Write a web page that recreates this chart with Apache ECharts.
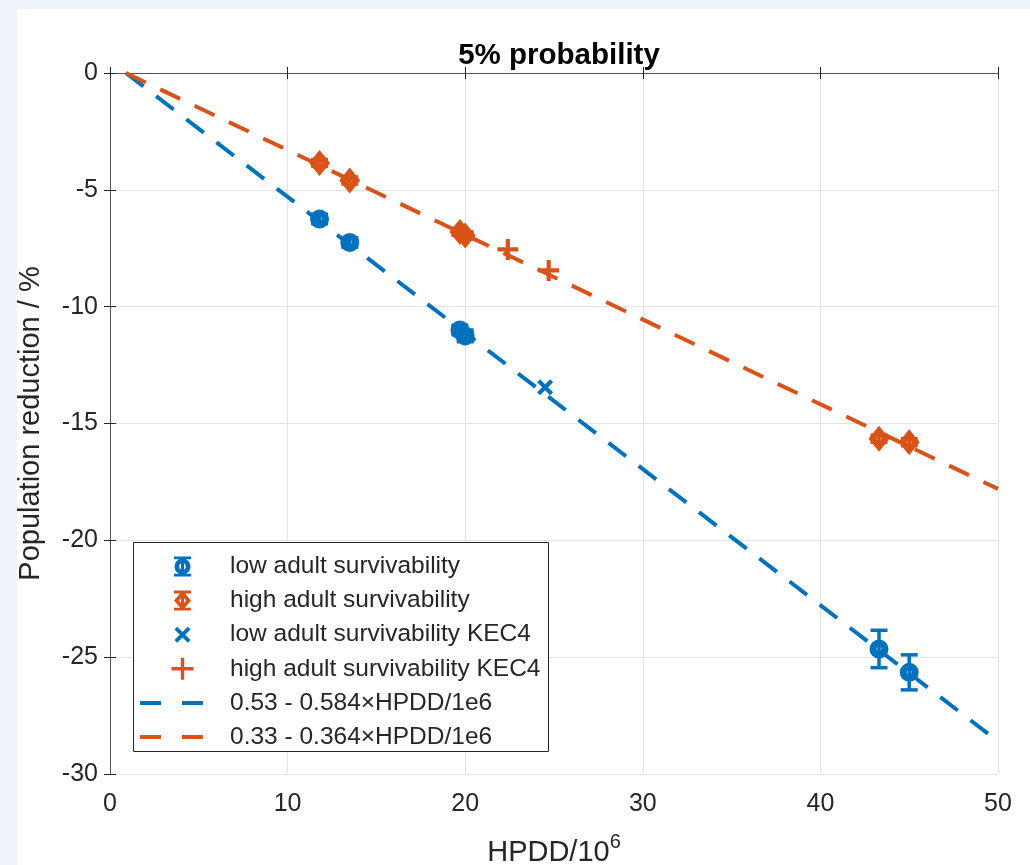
<!DOCTYPE html>
<html>
<head>
<meta charset="utf-8">
<script src="https://cdn.jsdelivr.net/npm/echarts@6/dist/echarts.min.js"></script>
<style>
  html, body { margin: 0; padding: 0; background: #eef2fa; }
  #chart { width: 1030px; height: 865px; }
</style>
</head>
<body>
<div id="chart"></div>
<script>
// values
const lowX = [11.8, 13.5, 19.7, 20.0, 43.3, 45.0];
const lowY = [-6.25, -7.25, -11.0, -11.25, -24.65, -25.65];
const lowErr = [0.2, 0.2, 0.2, 0.25, 0.8, 0.75];

const highX = [11.8, 13.5, 19.7, 20.0, 43.3, 45.0];
const highY = [-3.85, -4.6, -6.8, -6.95, -15.65, -15.8];
const highErr = [0.15, 0.15, 0.15, 0.15, 0.15, 0.15];

const lowKecX = [24.5];
const lowKecY = [-13.45];
const highKecX = [22.4, 24.7];
const highKecY = [-7.55, -8.45];

const fitLowX = [0.9, 50];
const fitLowY = [0, -28.6];
const fitHighX = [0.9, 50];
const fitHighY = [0, -17.8];

const names = [
  'low adult survivability',
  'high adult survivability',
  'low adult survivability KEC4',
  'high adult survivability KEC4',
  '0.53 - 0.584\u00d7HPDD/1e6',
  '0.33 - 0.364\u00d7HPDD/1e6',
];

const BLUE = '#0072BD';
const ORANGE = '#D95319';
const FONT = '"Liberation Sans", Arial, Helvetica, sans-serif';
const INK = '#262626';

// legend icons, each in a 85x22 frame (the two leading moves pin the frame)
const FRAME = 'path://M0,0 M85,22 ';
const ICON_CIRCLE_BAR = FRAME + 'M34,1 H51 V3.8 H34 Z M34,18.2 H51 V21 H34 Z M41,3 H44 V19 H41 Z'
  + ' M34.5,11 A8,8 0 1,1 50.5,11 A8,8 0 1,1 34.5,11 Z M39.3,11 A3.2,3.2 0 1,0 45.7,11 A3.2,3.2 0 1,0 39.3,11 Z';
const ICON_DIAMOND_BAR = FRAME + 'M34,1 H51 V3.8 H34 Z M34,18.2 H51 V21 H34 Z M41,3 H44 V19 H41 Z'
  + ' M42.5,1 L51,11 L42.5,21 L34,11 Z M42.5,6.8 L38.9,11 L42.5,15.2 L46.1,11 Z';
const ICON_X = FRAME + 'M34.5,5.7 L37.2,3 L42.5,8.3 L47.8,3 L50.5,5.7 L45.2,11 L50.5,16.3 L47.8,19 L42.5,13.7 L37.2,19 L34.5,16.3 L39.8,11 Z';
const ICON_PLUS = FRAME + 'M40.8,0 H44.2 V9.3 H53.5 V12.7 H44.2 V22 H40.8 V12.7 H31.5 V9.3 H40.8 Z';
const ICON_DASH = FRAME + 'M0,9 H21 V13 H0 Z M42,9 H63 V13 H42 Z';

// plot markers: thick rings drawn as filled paths with a small hole
const SYM_RING = 'path://M0,10 A10,10 0 1,1 20,10 A10,10 0 1,1 0,10 Z M7.4,10 A2.6,2.6 0 1,0 12.6,10 A2.6,2.6 0 1,0 7.4,10 Z';
const SYM_DIAMOND = 'path://M10,0 L20,12 L10,24 L0,12 Z M10,9 L7.6,12 L10,15 L12.4,12 Z';
const SYM_X = 'path://M0,3 L3,0 L8,5 L13,0 L16,3 L11,8 L16,13 L13,16 L8,11 L3,16 L0,13 L5,8 Z';
const SYM_PLUS = 'path://M6.4,0 H9.6 V6.4 H16 V9.6 H9.6 V16 H6.4 V9.6 H0 V6.4 H6.4 Z';

function zip(xs, ys) {
  return xs.map((x, i) => [x, ys[i]]);
}

function errorBars(name, color, xs, ys, errs) {
  return {
    name: name,
    type: 'custom',
    z: 3,
    data: xs.map((x, i) => [x, ys[i], errs[i]]),
    encode: { x: 0, y: 1 },
    renderItem: (params, api) => {
      const x = api.value(0);
      const y = api.value(1);
      const e = api.value(2);
      const top = api.coord([x, y + e]);
      const bot = api.coord([x, y - e]);
      const w = 8.5;
      const st = { stroke: color, lineWidth: 3.5 };
      return {
        type: 'group',
        children: [
          { type: 'line', shape: { x1: top[0], y1: top[1], x2: bot[0], y2: bot[1] }, style: st },
          { type: 'line', shape: { x1: top[0] - w, y1: top[1], x2: top[0] + w, y2: top[1] }, style: st },
          { type: 'line', shape: { x1: bot[0] - w, y1: bot[1], x2: bot[0] + w, y2: bot[1] }, style: st },
        ],
      };
    },
  };
}

const axisCommon = {
  axisLine: { lineStyle: { color: '#555', width: 1 } },
  axisTick: { inside: true, length: 6, lineStyle: { color: INK, width: 1 } },
  splitLine: { show: false },
  axisLabel: { show: false },
};

const chart = echarts.init(document.getElementById('chart'));

chart.setOption({
  animation: false,
  backgroundColor: 'transparent',
  textStyle: { fontFamily: FONT },
  graphic: [
    {
      type: 'rect',
      z: -10,
      silent: true,
      shape: { x: 17, y: 9, width: 1013, height: 856 },
      style: { fill: '#ffffff' },
    },
    {
      type: 'rect',
      z: 3,
      silent: true,
      shape: { x: 133.5, y: 542.5, width: 415, height: 209 },
      style: { fill: '#ffffff', stroke: INK, lineWidth: 1 },
    },
  ],
  title: {
    text: '5% probability',
    left: 554,
    top: 36,
    textAlign: 'center',
    textStyle: { fontFamily: FONT, fontSize: 29.5, fontWeight: 'bold', color: '#000' },
  },
  grid: { left: 110, right: 32, top: 73, bottom: 91, containLabel: false, outerBoundsMode: 'none' },
  legend: {
    orient: 'vertical',
    left: 140,
    top: 554,
    padding: 0,
    itemWidth: 85,
    itemHeight: 22,
    itemGap: 9.1,
    z: 5,
    selectedMode: false,
    textStyle: { fontFamily: FONT, fontSize: 24.5, color: INK, lineHeight: 22 },
    data: [
      { name: names[0], icon: ICON_CIRCLE_BAR, itemStyle: { borderWidth: 0, color: BLUE, opacity: 1 } },
      { name: names[1], icon: ICON_DIAMOND_BAR, itemStyle: { borderWidth: 0, color: ORANGE, opacity: 1 } },
      { name: names[2], icon: ICON_X, itemStyle: { borderWidth: 0, color: BLUE, opacity: 1 } },
      { name: names[3], icon: ICON_PLUS, itemStyle: { borderWidth: 0, color: ORANGE, opacity: 1 } },
      { name: names[4], icon: ICON_DASH, itemStyle: { borderWidth: 0, color: BLUE, opacity: 1 } },
      { name: names[5], icon: ICON_DASH, itemStyle: { borderWidth: 0, color: ORANGE, opacity: 1 } },
    ],
  },
  xAxis: [
    {
      type: 'value',
      position: 'bottom',
      min: 0,
      max: 50,
      interval: 10,
      name: '{a|HPDD/10}{s|6}',
      nameLocation: 'middle',
      nameGap: 63,
      nameTextStyle: {
        rich: {
          a: { fontFamily: FONT, fontSize: 29, color: INK, verticalAlign: 'bottom', lineHeight: 30 },
          s: { fontFamily: FONT, fontSize: 20, color: INK, verticalAlign: 'bottom', lineHeight: 30, padding: [0, 0, 15, 0] },
        },
      },
      axisLine: { lineStyle: { color: '#555', width: 1 } },
      axisTick: { inside: true, length: 6, lineStyle: { color: INK, width: 1 } },
      axisLabel: { fontFamily: FONT, fontSize: 25, color: INK, margin: 18 },
      splitLine: { show: true, lineStyle: { color: '#e2e2e2', width: 1 } },
    },
    Object.assign({}, axisCommon, { type: 'value', position: 'top', min: 0, max: 50, interval: 10 }),
  ],
  yAxis: [
    {
      type: 'value',
      position: 'left',
      min: -30,
      max: 0,
      interval: 5,
      name: 'Population reduction / %',
      nameLocation: 'middle',
      nameGap: 65,
      nameTextStyle: { fontFamily: FONT, fontSize: 29, color: INK },
      axisLine: { lineStyle: { color: '#555', width: 1 } },
      axisTick: { inside: true, length: 6, lineStyle: { color: INK, width: 1 } },
      axisLabel: { fontFamily: FONT, fontSize: 25, color: INK, margin: 12 },
      splitLine: { show: true, lineStyle: { color: '#e2e2e2', width: 1 } },
    },
    Object.assign({}, axisCommon, { type: 'value', position: 'right', min: -30, max: 0, interval: 5 }),
  ],
  series: [
    errorBars('low err', BLUE, lowX, lowY, lowErr),
    {
      name: names[0],
      type: 'scatter',
      z: 4,
      data: zip(lowX, lowY),
      symbol: SYM_RING,
      symbolSize: 19,
      itemStyle: { color: BLUE, opacity: 1 },
    },
    errorBars('high err', ORANGE, highX, highY, highErr),
    {
      name: names[1],
      type: 'scatter',
      z: 4,
      data: zip(highX, highY),
      symbol: SYM_DIAMOND,
      symbolSize: [21, 26],
      itemStyle: { color: ORANGE, opacity: 1 },
    },
    {
      name: names[2],
      type: 'scatter',
      z: 4,
      data: zip(lowKecX, lowKecY),
      symbol: SYM_X,
      symbolSize: 16,
      itemStyle: { color: BLUE, opacity: 1 },
    },
    {
      name: names[3],
      type: 'scatter',
      z: 4,
      data: zip(highKecX, highKecY),
      symbol: SYM_PLUS,
      symbolSize: 21,
      itemStyle: { color: ORANGE, opacity: 1 },
    },
    {
      name: names[4],
      type: 'line',
      z: 5,
      data: zip(fitLowX, fitLowY),
      symbol: 'none',
      lineStyle: { color: BLUE, width: 4, type: [22, 16] },
      itemStyle: { color: BLUE },
    },
    {
      name: names[5],
      type: 'line',
      z: 5,
      data: zip(fitHighX, fitHighY),
      symbol: 'none',
      lineStyle: { color: ORANGE, width: 4, type: [22, 16] },
      itemStyle: { color: ORANGE },
    },
  ],
});
</script>
</body>
</html>
